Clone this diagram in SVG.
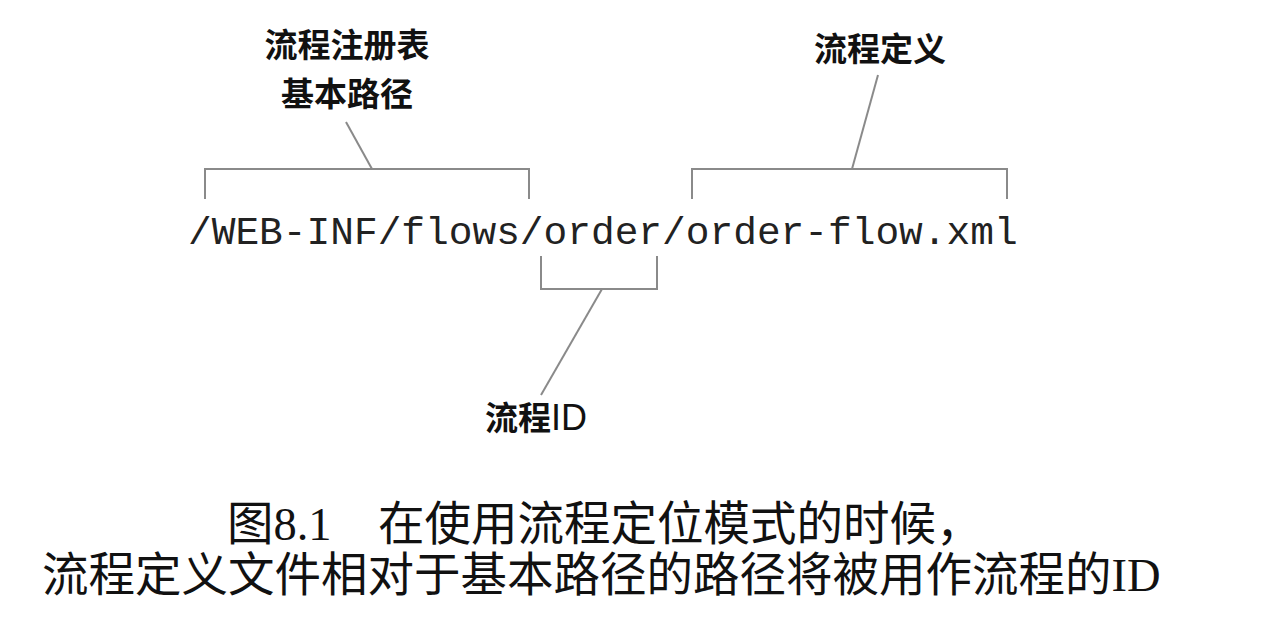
<svg xmlns="http://www.w3.org/2000/svg" width="1262" height="620" viewBox="0 0 1262 620">
<style>
.lbl{font-family:"Noto Sans CJK SC","Liberation Sans",sans-serif;font-size:33px;fill:#111;font-weight:bold}
.path{font-family:"Liberation Mono","Noto Sans CJK SC",monospace;font-size:39.5px;fill:#222}
.cap{font-family:"Liberation Serif","Noto Sans CJK SC",serif;font-size:46.5px;fill:#111}
.br{fill:none;stroke:#8a8a8a;stroke-width:2}
</style>
<rect width="1262" height="620" fill="#fff"/>
<g id="path-text"><text class="path" x="188" y="244">/WEB-INF/flows/order/order-flow.xml</text></g>
<g id="label-registry">
<text class="lbl" x="347" y="57" text-anchor="middle">流程注册表</text>
<text class="lbl" x="347" y="106" text-anchor="middle">基本路径</text>
</g>
<g id="label-definition"><text class="lbl" x="880" y="61" text-anchor="middle">流程定义</text></g>
<g id="label-id"><text class="lbl" x="485" y="430">流程<tspan font-family="Liberation Sans,sans-serif" font-weight="normal" font-size="36">ID</tspan></text></g>
<g id="connectors">
<path class="br" d="M205,199 V169 H529 V199"/>
<line class="br" x1="372" y1="169" x2="346" y2="122"/>
<path class="br" d="M692,199 V169 H1007 V199"/>
<line class="br" x1="852" y1="169" x2="878" y2="75"/>
<path class="br" d="M541,256 V289 H657 V256"/>
<line class="br" x1="602" y1="289" x2="541" y2="395"/>
</g>
<g id="caption">
<text class="cap" x="227" y="540">图8.1　在使用流程定位模式的时候，</text>
<text class="cap" x="42" y="591">流程定义文件相对于基本路径的路径将被用作流程的ID</text>
</g>
</svg>
